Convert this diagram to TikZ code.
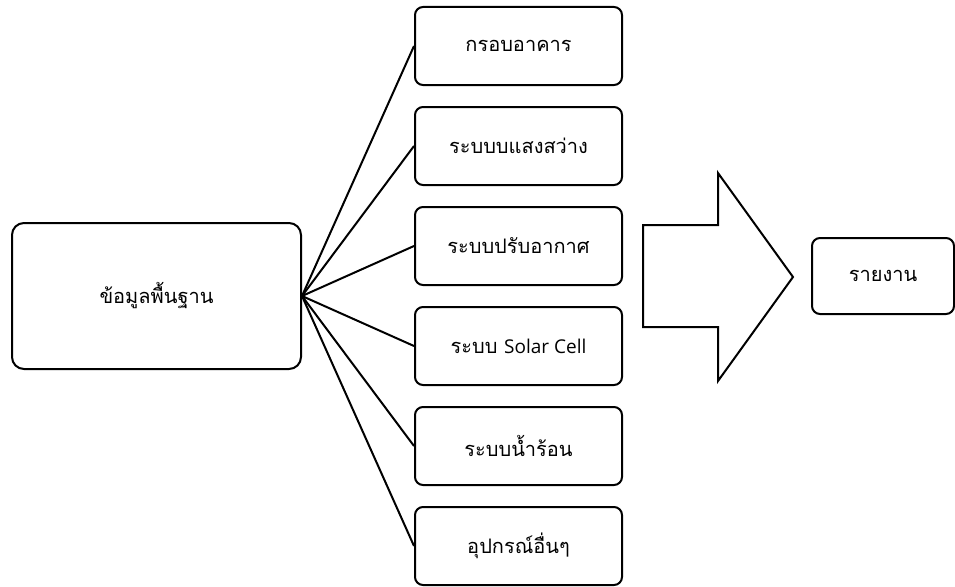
\documentclass[tikz,border=0pt]{standalone}
\usepackage{fontspec}
\setmainfont[Script=Thai]{Loma}
\newfontfamily\latinfont{Open Sans}
\begin{document}
\begin{tikzpicture}[x=1pt,y=-1pt,
  box/.style={draw,line width=2pt,rounded corners=8pt,font=\fontsize{20}{24}\selectfont},
  conn/.style={line width=2pt}]
\useasboundingbox (0,0) rectangle (955,586);
\node[box,rounded corners=12pt,minimum width=289pt,minimum height=146pt] (base) at (156.5,296) {ข้อมูลพื้นฐาน};
\foreach \i/\t in {1/กรอบอาคาร,2/ระบบบแสงสว่าง,3/ระบบปรับอากาศ,4/{ระบบ {\latinfont\fontsize{19}{24}\selectfont Solar Cell}},5/ระบบน้ำร้อน,6/อุปกรณ์อื่นๆ}{
  \node[box,minimum width=207pt,minimum height=78pt] (m\i) at (518.5,{46+100*(\i-1)}) {\t};
  \draw[conn] (base.east) -- (m\i.west);
}
\node[box,minimum width=142pt,minimum height=76pt] (rep) at (883,276) {รายงาน};
\draw[line width=2pt,line join=miter] (643,225) coordinate (a1) -- (718,225) -- (718,173) -- (793,277) coordinate (tip) -- (718,381) -- (718,327) -- (643,327) -- cycle;
\end{tikzpicture}
\end{document}
